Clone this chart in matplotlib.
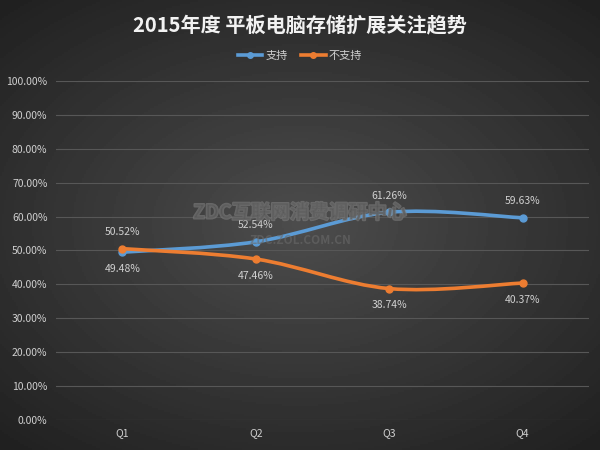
import numpy as np
import matplotlib.pyplot as plt
from matplotlib.path import Path
from matplotlib.patches import PathPatch
import matplotlib.patheffects as pe

plt.rcParams['font.family'] = ['Noto Sans CJK SC', 'DejaVu Sans']

quarters = ['Q1', 'Q2', 'Q3', 'Q4']
support = [49.48, 52.54, 61.26, 59.63]
no_support = [50.52, 47.46, 38.74, 40.37]
title = '2015年度 平板电脑存储扩展关注趋势'

blue = '#5b9bd5'
orange = '#ed7d31'
text_col = '#d0d0d0'


def smooth_path(xs, ys, t=1 / 6):
    # Excel-style smoothed line: cubic bezier through the points
    xs = np.asarray(xs, float)
    ys = np.asarray(ys, float)
    n = len(xs)
    verts = [(xs[0], ys[0])]
    codes = [Path.MOVETO]
    for i in range(n - 1):
        p0 = np.array([xs[max(i - 1, 0)], ys[max(i - 1, 0)]])
        p1 = np.array([xs[i], ys[i]])
        p2 = np.array([xs[i + 1], ys[i + 1]])
        p3 = np.array([xs[min(i + 2, n - 1)], ys[min(i + 2, n - 1)]])
        c1 = p1 + (p2 - p0) * t
        c2 = p2 - (p3 - p1) * t
        verts += [tuple(c1), tuple(c2), tuple(p2)]
        codes += [Path.CURVE4] * 3
    return Path(verts, codes)


fig = plt.figure(figsize=(6, 4.5), dpi=100)

# radial gradient background
bg = fig.add_axes([0, 0, 1, 1], zorder=-10)
yy, xx = np.mgrid[-1:1:225j, -1:1:300j]
r = np.sqrt((xx * 0.9) ** 2 + (yy * 1.0) ** 2)
bg.imshow(0.30 - 0.13 * r, cmap='gray', vmin=0, vmax=1, aspect='auto',
          extent=[0, 1, 0, 1])
bg.axis('off')

ax = fig.add_axes([0.093, 0.067, 0.889, 0.753])
ax.set_facecolor('none')

x = np.arange(len(quarters))
for vals, col, name in [(support, blue, '支持'), (no_support, orange, '不支持')]:
    ax.add_patch(PathPatch(smooth_path(x, vals), facecolor='none', edgecolor=col,
                           lw=2.6, zorder=3, capstyle='round'))
    ax.plot(x, vals, 'o', color=col, ms=5, zorder=4)
    ax.plot([], [], '-o', color=col, lw=2.6, ms=4, label=name)

# data labels
sup_off = [-12, 12, 12, 12]
nos_off = [12, -12, -12, -12]
for i in range(len(quarters)):
    ax.annotate(f'{support[i]:.2f}%', (x[i], support[i]), xytext=(0, sup_off[i]),
                textcoords='offset points', ha='center', va='center',
                fontsize=7.5, color=text_col, zorder=5)
    ax.annotate(f'{no_support[i]:.2f}%', (x[i], no_support[i]), xytext=(0, nos_off[i]),
                textcoords='offset points', ha='center', va='center',
                fontsize=7.5, color=text_col, zorder=5)

ax.set_xlim(-0.5, 3.5)
ax.set_ylim(0, 100)
ax.set_yticks(np.arange(0, 101, 10))
ax.set_yticklabels([f'{v:.2f}%' for v in range(0, 101, 10)])
ax.set_xticks(x)
ax.set_xticklabels(quarters)
ax.tick_params(colors=text_col, labelsize=7.5, length=0, pad=6)
ax.grid(axis='y', color='#575757', lw=0.8)
ax.set_axisbelow(True)
for s in ax.spines.values():
    s.set_visible(False)

# watermark
fig.text(0.5, 0.527, 'ZDC互联网消费调研中心', ha='center', va='center', fontsize=14,
         fontweight='bold', color='#5a5a5a', alpha=0.6,
         path_effects=[pe.withStroke(linewidth=1.5, foreground='#808080')])
fig.text(0.5, 0.466, 'ZDC.ZOL.COM.CN', ha='center', va='center', fontsize=8.5,
         fontweight='bold', color='#6a6a6a', alpha=0.6)

fig.text(0.5, 0.945, title, ha='center', va='center', fontsize=14.5,
         fontweight='bold', color='#f2f2f2')
fig.legend(loc='center', bbox_to_anchor=(0.5, 0.875), ncol=2, frameon=False,
           fontsize=8, labelcolor=text_col, handlelength=2.2, columnspacing=1.2,
           handletextpad=0.3)

fig.savefig('out.png', dpi=100)
